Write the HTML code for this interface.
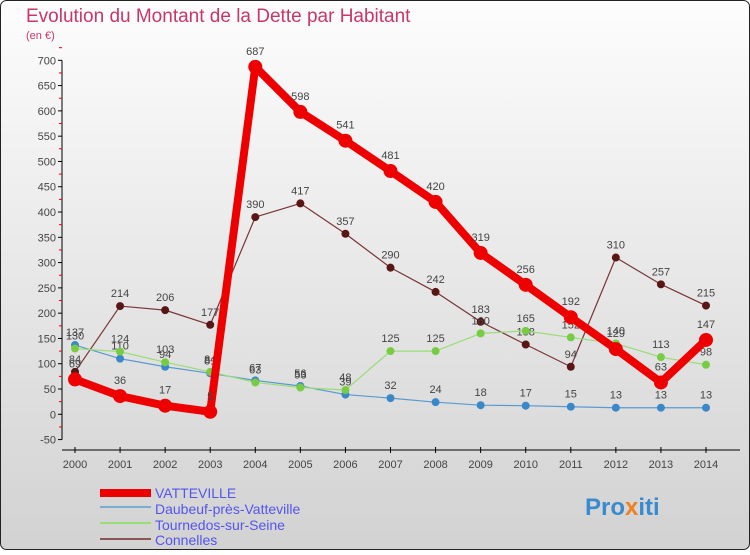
<!DOCTYPE html>
<html><head><meta charset="utf-8"><style>
body{margin:0;width:750px;height:550px;overflow:hidden;font-family:"Liberation Sans",sans-serif}
svg text{font-family:"Liberation Sans",sans-serif}
</style></head><body>
<svg width="750" height="550" xmlns="http://www.w3.org/2000/svg">
<defs><linearGradient id="bg" x1="0" y1="0" x2="0" y2="1"><stop offset="0" stop-color="#fdfdfd"/><stop offset="1" stop-color="#d2d2d2"/></linearGradient></defs>
<rect x="0.5" y="0.5" width="749" height="549" rx="6" fill="url(#bg)" stroke="#222"/>
<text x="26" y="22" font-size="19" fill="#c8366a">Evolution du Montant de la Dette par Habitant</text>
<text x="26" y="39" font-size="11" fill="#c8366a">(en €)</text>
<g id="axes"></g><g id="series"></g>
<g>
<rect x="100" y="489" width="51" height="8" fill="#e00"/>
<text x="155" y="498" font-size="14" fill="#5555ee">VATTEVILLE</text>
<rect x="100" y="506" width="51" height="2" fill="#7aaed0"/>
<text x="155" y="514" font-size="14" fill="#5555ee">Daubeuf-près-Vatteville</text>
<rect x="100" y="522" width="51" height="2" fill="#99dd77"/>
<text x="155" y="530" font-size="14" fill="#5555ee">Tournedos-sur-Seine</text>
<rect x="100" y="538" width="51" height="2" fill="#8a5555"/>
<text x="155" y="545" font-size="14" fill="#5555ee">Connelles</text>
</g>
<text x="585" y="515" font-size="24" font-weight="bold" fill="#3a8ad0">Pro<tspan fill="#f08020">x</tspan>iti</text>
</svg>
<script>
const years=[2000,2001,2002,2003,2004,2005,2006,2007,2008,2009,2010,2011,2012,2013,2014];
const yTicks=[-50,0,50,100,150,200,250,300,350,400,450,500,550,600,650,700];
const vatteville=[69,36,17,5,687,598,541,481,420,319,256,192,129,63,147];
const daubeuf=[137,110,94,81,67,56,39,32,24,18,17,15,13,13,13];
const tournedos=[130,124,103,84,63,53,48,125,125,160,165,152,140,113,98];
const connelles=[84,214,206,177,390,417,357,290,242,183,138,94,310,257,215];
const NS="http://www.w3.org/2000/svg";
const xs=i=>75+i*(706-75)/(years.length-1);
const ys=v=>414.3-v*0.5057;
function mk(tag,at,parent){const e=document.createElementNS(NS,tag);for(const k in at)e.setAttribute(k,at[k]);parent.appendChild(e);return e;}
const ax=document.getElementById('axes');
let yl=mk('line',{x1:62,y1:ys(700),x2:62,y2:ys(-50),stroke:'#000'},ax);


yTicks.forEach(v=>{
 mk('line',{x1:58,x2:62,y1:ys(v),y2:ys(v),stroke:'#000'},ax);
 mk('line',{x1:59,x2:62,y1:ys(v+25),y2:ys(v+25),stroke:'#e00'},ax);
 const t=mk('text',{x:56,y:ys(v)+4,'font-size':11,'text-anchor':'end',fill:'#444'},ax);
 t.textContent=v;
 
 
});
let xl=mk('line',{x1:62,y1:450,x2:740,y2:450,stroke:'#000'},ax);


years.forEach((y,i)=>{
 mk('line',{x1:xs(i),x2:xs(i),y1:447,y2:453,stroke:'#000'},ax);
 const t=mk('text',{x:xs(i),y:468,'font-size':11,'text-anchor':'middle',fill:'#444'},ax);
 t.textContent=y;
 
 
});
const sg=document.getElementById('series');
function draw(data,name,color,w,r,dot){
 const g=mk('g',{},sg);
 
 
 const l=mk('polyline',{points:data.map((v,i)=>xs(i)+','+ys(v)).join(' '),fill:'none',stroke:color,'stroke-width':w,'stroke-linejoin':'round'},g);
 
 
 data.forEach((v,i)=>{
  const c=mk('circle',{cx:xs(i),cy:ys(v),r:r,fill:dot},g);
  
  
  const t=mk('text',{x:xs(i),y:ys(v)-r-5,'font-size':11,'text-anchor':'middle',fill:'#444'},g);
  t.textContent=v;
  
  
 });
}
draw(connelles,'connelles','#7a3535',1.2,4,'#5a1515');
draw(daubeuf,'daubeuf','#5a9ad0',1.2,4,'#3a88c8');
draw(tournedos,'tournedos','#99dd77',1.2,4,'#77cc44');
draw(vatteville,'vatteville','#ee0000',8,7,'#ee0000');
</script>
</body></html>
